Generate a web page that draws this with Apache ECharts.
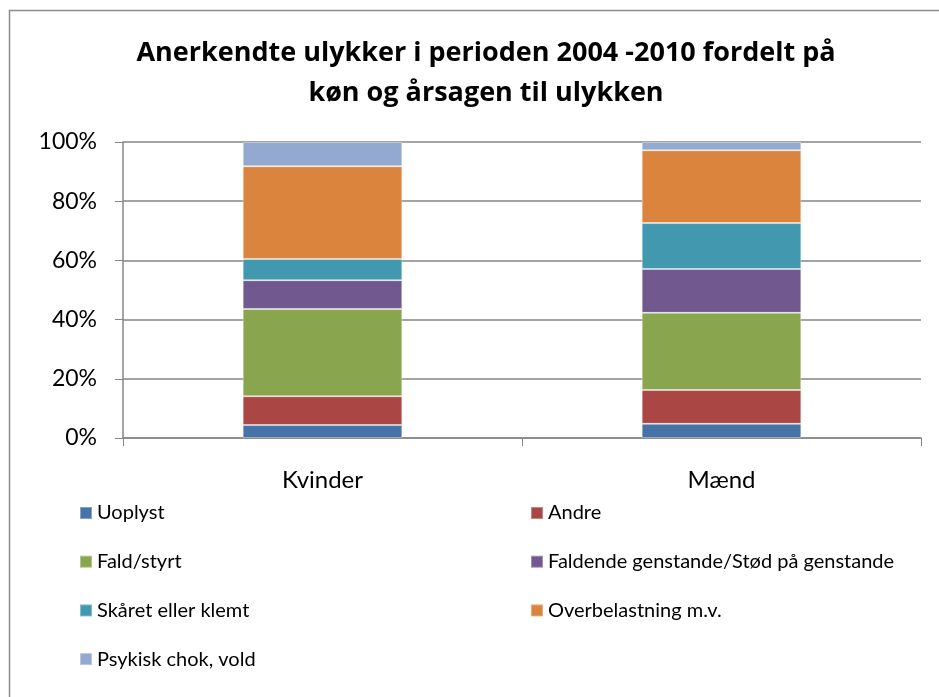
<!DOCTYPE html>
<html>
<head>
<meta charset="utf-8">
<script src="https://cdn.jsdelivr.net/npm/echarts@6/dist/echarts.min.js"></script>
<style>
  html, body { margin: 0; padding: 0; background: #fff; }
  #chart { width: 939px; height: 697px; }
</style>
</head>
<body>
<div id="chart"></div>
<script>
  // data (share of each cause, in %)
  var categories = ['Kvinder', 'Mænd'];
  var causes = ['Uoplyst', 'Andre', 'Fald/styrt', 'Faldende genstande/Stød på genstande',
                'Skåret eller klemt', 'Overbelastning m.v.', 'Psykisk chok, vold'];
  var uoplyst = [4.4, 4.8];
  var andre = [9.7, 11.4];
  var fald = [29.5, 26.1];
  var faldende = [9.7, 14.8];
  var skaaret = [7.2, 15.5];
  var overbelastning = [31.3, 24.6];
  var psykisk = [8.2, 2.8];
  var yTicks = [0, 20, 40, 60, 80, 100];

  var values = [uoplyst, andre, fald, faldende, skaaret, overbelastning, psykisk];
  var colors = ['#4572a7', '#aa4643', '#89a54e', '#71588f', '#4198af', '#db843d', '#93a9cf'];
  var font = 'Lato, "Open Sans", sans-serif';

  var chart = echarts.init(document.getElementById('chart'));

  // one legend per entry so the two-column Excel layout can be placed exactly
  var legends = causes.map(function (name, i) {
    return {
      data: [name],
      left: i % 2 === 0 ? 79 : 530,
      top: 503 + Math.floor(i / 2) * 48.7,
      padding: 0,
      itemWidth: 12,
      itemHeight: 12,
      itemGap: 5,
      icon: 'rect',
      selectedMode: false,
      textStyle: { fontFamily: font, fontSize: 20, color: '#000' }
    };
  });

  chart.setOption({
    color: colors,
    animation: false,
    title: {
      text: 'Anerkendte ulykker i perioden 2004 -2010 fordelt på\nkøn og årsagen til ulykken',
      left: 481,
      top: 28,
      textAlign: 'center',
      textStyle: { fontFamily: '"Open Sans", sans-serif', fontSize: 27, fontWeight: 'bold', color: '#000', lineHeight: 40 }
    },
    legend: legends,
    graphic: [{
      type: 'rect',
      shape: { x: 9.5, y: 10.5, width: 1000, height: 1000 },
      style: { fill: null, stroke: '#8c8c8c', lineWidth: 1.5 },
      silent: true
    }],
    grid: { left: 123, right: 18, top: 142, bottom: 259 },
    xAxis: {
      type: 'category',
      data: categories,
      axisLine: { lineStyle: { color: '#868686', width: 1.5 } },
      axisTick: { show: true, length: 8, lineStyle: { color: '#868686' } },
      axisLabel: { fontFamily: font, fontSize: 24, color: '#000', margin: 30 }
    },
    yAxis: {
      type: 'value',
      min: yTicks[0],
      max: yTicks[yTicks.length - 1],
      interval: yTicks[1] - yTicks[0],
      axisLine: { show: true, lineStyle: { color: '#868686', width: 1.5 } },
      axisTick: { show: true, length: 8, lineStyle: { color: '#868686' } },
      axisLabel: { fontFamily: font, fontSize: 23, color: '#000', margin: 26, formatter: '{value}%' },
      splitLine: { lineStyle: { color: '#868686', width: 1.5 } }
    },
    series: causes.map(function (name, i) {
      return {
        name: name,
        type: 'bar',
        stack: 'total',
        barWidth: '40%',
        data: values[i],
        itemStyle: { borderColor: 'rgba(255,255,255,0.35)', borderWidth: 1 }
      };
    })
  });
</script>
</body>
</html>
